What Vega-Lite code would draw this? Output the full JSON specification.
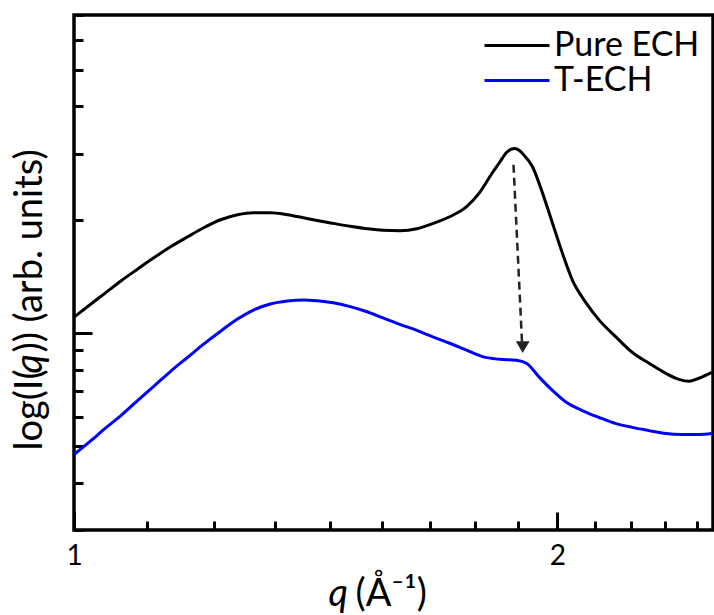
{
  "$schema": "https://vega.github.io/schema/vega-lite/v6.json",
  "width": 639,
  "height": 515,
  "autosize": {"type": "none"},
  "padding": {"left": 74, "top": 15, "right": 1, "bottom": 85},
  "background": "white",
  "config": {
    "font": "Lato",
    "view": {"stroke": "black", "strokeWidth": 3.5},
    "axis": {
      "domain": false,
      "grid": false,
      "tickColor": "black",
      "tickWidth": 3,
      "labelColor": "black",
      "titleColor": "black",
      "labelFont": "Lato",
      "titleFont": "Lato",
      "titleFontWeight": "normal",
      "titleFontSize": 38
    }
  },
  "datasets": {
    "curves": [
      {"series": "Pure ECH", "q": 1.0, "I": 1.103},
      {"series": "Pure ECH", "q": 1.0246, "I": 1.195},
      {"series": "Pure ECH", "q": 1.0438, "I": 1.27},
      {"series": "Pure ECH", "q": 1.0695, "I": 1.376},
      {"series": "Pure ECH", "q": 1.0958, "I": 1.481},
      {"series": "Pure ECH", "q": 1.1211, "I": 1.585},
      {"series": "Pure ECH", "q": 1.1486, "I": 1.696},
      {"series": "Pure ECH", "q": 1.1771, "I": 1.803},
      {"series": "Pure ECH", "q": 1.2043, "I": 1.905},
      {"series": "Pure ECH", "q": 1.2339, "I": 2.001},
      {"series": "Pure ECH", "q": 1.2642, "I": 2.064},
      {"series": "Pure ECH", "q": 1.2934, "I": 2.089},
      {"series": "Pure ECH", "q": 1.3252, "I": 2.089},
      {"series": "Pure ECH", "q": 1.3578, "I": 2.064},
      {"series": "Pure ECH", "q": 1.3892, "I": 2.026},
      {"series": "Pure ECH", "q": 1.4173, "I": 1.992},
      {"series": "Pure ECH", "q": 1.4501, "I": 1.957},
      {"series": "Pure ECH", "q": 1.4857, "I": 1.922},
      {"series": "Pure ECH", "q": 1.5222, "I": 1.894},
      {"series": "Pure ECH", "q": 1.5574, "I": 1.876},
      {"series": "Pure ECH", "q": 1.5957, "I": 1.871},
      {"series": "Pure ECH", "q": 1.6349, "I": 1.894},
      {"series": "Pure ECH", "q": 1.6727, "I": 1.955},
      {"series": "Pure ECH", "q": 1.7138, "I": 2.038},
      {"series": "Pure ECH", "q": 1.7559, "I": 2.168},
      {"series": "Pure ECH", "q": 1.7888, "I": 2.362},
      {"series": "Pure ECH", "q": 1.8224, "I": 2.671},
      {"series": "Pure ECH", "q": 1.8408, "I": 2.84},
      {"series": "Pure ECH", "q": 1.8593, "I": 3.02},
      {"series": "Pure ECH", "q": 1.8806, "I": 3.095},
      {"series": "Pure ECH", "q": 1.8941, "I": 3.057},
      {"series": "Pure ECH", "q": 1.9022, "I": 3.001},
      {"series": "Pure ECH", "q": 1.9296, "I": 2.771},
      {"series": "Pure ECH", "q": 1.9574, "I": 2.362},
      {"series": "Pure ECH", "q": 1.9856, "I": 1.965},
      {"series": "Pure ECH", "q": 2.0141, "I": 1.634},
      {"series": "Pure ECH", "q": 2.0431, "I": 1.385},
      {"series": "Pure ECH", "q": 2.0845, "I": 1.202},
      {"series": "Pure ECH", "q": 2.1236, "I": 1.083},
      {"series": "Pure ECH", "q": 2.1758, "I": 0.976},
      {"series": "Pure ECH", "q": 2.2261, "I": 0.89},
      {"series": "Pure ECH", "q": 2.2808, "I": 0.832},
      {"series": "Pure ECH", "q": 2.3368, "I": 0.782},
      {"series": "Pure ECH", "q": 2.3807, "I": 0.754},
      {"series": "Pure ECH", "q": 2.415, "I": 0.745},
      {"series": "Pure ECH", "q": 2.4498, "I": 0.759},
      {"series": "Pure ECH", "q": 2.4958, "I": 0.787},
      {"series": "T-ECH", "q": 1.0, "I": 0.476},
      {"series": "T-ECH", "q": 1.0246, "I": 0.518},
      {"series": "T-ECH", "q": 1.0438, "I": 0.555},
      {"series": "T-ECH", "q": 1.0695, "I": 0.604},
      {"series": "T-ECH", "q": 1.0958, "I": 0.663},
      {"series": "T-ECH", "q": 1.1211, "I": 0.722},
      {"series": "T-ECH", "q": 1.1486, "I": 0.792},
      {"series": "T-ECH", "q": 1.1771, "I": 0.863},
      {"series": "T-ECH", "q": 1.2043, "I": 0.935},
      {"series": "T-ECH", "q": 1.2339, "I": 1.012},
      {"series": "T-ECH", "q": 1.2642, "I": 1.09},
      {"series": "T-ECH", "q": 1.2934, "I": 1.152},
      {"series": "T-ECH", "q": 1.3252, "I": 1.195},
      {"series": "T-ECH", "q": 1.3578, "I": 1.217},
      {"series": "T-ECH", "q": 1.3892, "I": 1.225},
      {"series": "T-ECH", "q": 1.4173, "I": 1.219},
      {"series": "T-ECH", "q": 1.4501, "I": 1.204},
      {"series": "T-ECH", "q": 1.4857, "I": 1.176},
      {"series": "T-ECH", "q": 1.5222, "I": 1.14},
      {"series": "T-ECH", "q": 1.5574, "I": 1.098},
      {"series": "T-ECH", "q": 1.5957, "I": 1.055},
      {"series": "T-ECH", "q": 1.6349, "I": 1.017},
      {"series": "T-ECH", "q": 1.6727, "I": 0.978},
      {"series": "T-ECH", "q": 1.7138, "I": 0.94},
      {"series": "T-ECH", "q": 1.7559, "I": 0.901},
      {"series": "T-ECH", "q": 1.7965, "I": 0.866},
      {"series": "T-ECH", "q": 1.8408, "I": 0.852},
      {"series": "T-ECH", "q": 1.886, "I": 0.847},
      {"series": "T-ECH", "q": 1.9131, "I": 0.832},
      {"series": "T-ECH", "q": 1.949, "I": 0.763},
      {"series": "T-ECH", "q": 1.9856, "I": 0.705},
      {"series": "T-ECH", "q": 2.0257, "I": 0.655},
      {"series": "T-ECH", "q": 2.0726, "I": 0.623},
      {"series": "T-ECH", "q": 2.1236, "I": 0.597},
      {"series": "T-ECH", "q": 2.1758, "I": 0.575},
      {"series": "T-ECH", "q": 2.2261, "I": 0.562},
      {"series": "T-ECH", "q": 2.2808, "I": 0.551},
      {"series": "T-ECH", "q": 2.3368, "I": 0.541},
      {"series": "T-ECH", "q": 2.3909, "I": 0.538},
      {"series": "T-ECH", "q": 2.4498, "I": 0.538},
      {"series": "T-ECH", "q": 2.4958, "I": 0.541}
    ],
    "arrow": [
      {"q": 1.878, "I": 2.8, "q2": 1.901, "I2": 0.95, "qTip": 1.903, "ITip": 0.918}
    ]
  },
  "layer": [
    {
      "data": {"name": "curves"},
      "mark": {"type": "line", "strokeWidth": 3, "interpolate": "monotone"},
      "encoding": {
        "x": {
          "field": "q",
          "type": "quantitative",
          "scale": {"type": "log", "domain": [1, 2.5], "nice": false},
          "axis": {
            "orient": "bottom",
            "values": [1.1111, 1.2222, 1.3333, 1.4444, 1.5556, 1.6667, 1.7778, 1.8889, 2.1111, 2.2222, 2.3333, 2.4444],
            "labels": false,
            "tickSize": -9,
            "title": "(Å⁻¹)",
            "titleX": 281,
            "titleY": 75,
            "titleAlign": "left",
            "titleAnchor": null,
            "titleBaseline": "alphabetic"
          }
        },
        "y": {
          "field": "I",
          "type": "quantitative",
          "scale": {"type": "log", "domain": [0.3, 7], "nice": false},
          "axis": {
            "orient": "left",
            "values": [0.3, 0.4, 0.5, 0.6, 0.7, 0.8, 0.9, 2, 3, 4, 5, 6, 7],
            "labels": false,
            "tickSize": -9,
            "title": "log(I(",
            "titleAngle": -90,
            "titleX": -33,
            "titleY": 435,
            "titleAlign": "left",
            "titleAnchor": null,
            "titleBaseline": "alphabetic"
          }
        },
        "color": {
          "field": "series",
          "type": "nominal",
          "scale": {"domain": ["Pure ECH", "T-ECH"], "range": ["#000000", "#0000ff"]},
          "legend": {
            "orient": "none",
            "legendX": 409,
            "legendY": 15,
            "title": null,
            "padding": 0,
            "symbolType": "stroke",
            "symbolSize": 4225,
            "symbolStrokeWidth": 3,
            "clipHeight": 31,
            "labelFont": "Lato",
            "labelFontSize": 34,
            "labelColor": "black",
            "labelOffset": 3,
            "rowPadding": 0
          }
        }
      }
    },
    {
      "data": {"name": "arrow"},
      "mark": {"type": "rule", "strokeWidth": 2.5, "strokeDash": [8, 5], "color": "#222222"},
      "encoding": {
        "x": {
          "field": "q",
          "type": "quantitative",
          "scale": {"type": "log", "domain": [1, 2.5], "nice": false},
          "axis": {
            "orient": "bottom",
            "values": [1, 2],
            "format": "d",
            "tickSize": -18,
            "labelFontSize": 28,
            "labelPadding": 30,
            "labelFlush": false,
            "title": "q",
            "titleFontStyle": "italic",
            "titleX": 254,
            "titleY": 75,
            "titleAlign": "left",
            "titleAnchor": null,
            "titleBaseline": "alphabetic"
          }
        },
        "y": {
          "field": "I",
          "type": "quantitative",
          "scale": {"type": "log", "domain": [0.3, 7], "nice": false},
          "axis": {
            "orient": "left",
            "values": [1],
            "labels": false,
            "tickSize": -18,
            "title": "q",
            "titleFontStyle": "italic",
            "titleAngle": -90,
            "titleX": -33,
            "titleY": 358,
            "titleAlign": "left",
            "titleAnchor": null,
            "titleBaseline": "alphabetic"
          }
        },
        "x2": {"field": "q2"},
        "y2": {"field": "I2"}
      }
    },
    {
      "data": {"name": "arrow"},
      "mark": {"type": "point", "shape": "triangle-down", "filled": true, "size": 190, "color": "#222222", "opacity": 1},
      "encoding": {
        "x": {"field": "qTip", "type": "quantitative", "scale": {"type": "log", "domain": [1, 2.5], "nice": false}, "axis": null},
        "y": {
          "field": "ITip",
          "type": "quantitative",
          "scale": {"type": "log", "domain": [0.3, 7], "nice": false},
          "axis": {
            "orient": "left",
            "ticks": false,
            "labels": false,
            "title": ")) (arb. units)",
            "titleAngle": -90,
            "titleX": -33,
            "titleY": 337,
            "titleAlign": "left",
            "titleAnchor": null,
            "titleBaseline": "alphabetic"
          }
        }
      }
    }
  ],
  "resolve": {"axis": {"x": "independent", "y": "independent"}}
}
